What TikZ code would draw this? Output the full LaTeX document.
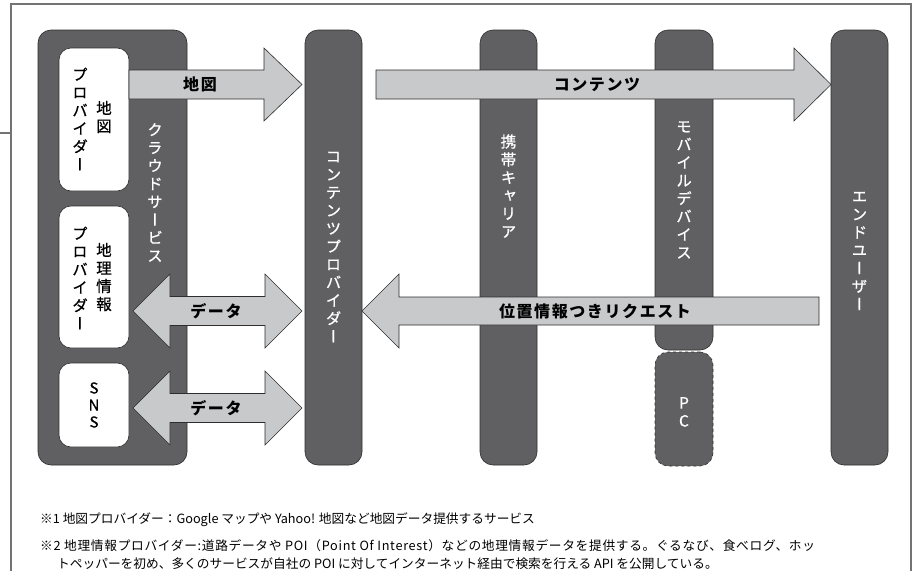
\documentclass[tikz,border=0pt]{standalone}
\usepackage{fontspec}
\setmainfont{Noto Sans CJK JP}
\newfontfamily\jp{Noto Sans CJK JP}
\newfontfamily\jpm[FakeBold=0.8]{Noto Sans CJK JP}
\newfontfamily\jpw[LetterSpace=5.5]{Noto Sans CJK JP}
\newfontfamily\vjp[RawFeature=+vert, FakeBold=0.8]{Noto Sans CJK JP}
\newfontfamily\lbl[LetterSpace=10]{Noto Sans CJK JP}
\definecolor{colfill}{RGB}{96,96,98}
\definecolor{colline}{RGB}{45,45,45}
\definecolor{arrfill}{RGB}{200,201,202}
\definecolor{framec}{RGB}{115,115,115}
\tikzset{
  col/.style={fill=colfill, draw=colline, line width=0.6pt, rounded corners=13pt, inner sep=0pt},
  wbox/.style={fill=white, draw=colline, line width=0.6pt, rounded corners=12pt, inner sep=0pt},
  barrow/.style={fill=arrfill, draw=colline, line width=0.6pt, line join=miter},
  vtxt/.style={text=white, font=\vjp\fontsize{15.5}{18}\selectfont, align=center, inner sep=0pt},
  vtxtb/.style={text=black, font=\vjp\fontsize{15.5}{18}\selectfont, align=center, inner sep=0pt},
  albl/.style={font=\lbl\bfseries\fontsize{16}{18}\selectfont, inner sep=0pt},
  note/.style={font=\jp\fontsize{12.7}{14}\selectfont, anchor=west, inner sep=0pt},
  framel/.style={draw=framec, line width=1.2pt}
}
\begin{document}
\begin{tikzpicture}[x=1pt,y=-1pt]
\useasboundingbox (0,0) rectangle (917,570);
% frame
\draw[framel] (11,572) -- (11,4) -- (911,4) -- (911,572);
\draw[framel] (0,133) -- (11,133);

% cloud services
\node[col, minimum width=149pt, minimum height=435pt] (cloud) at (112.5,247.5) {};
\node[wbox, minimum width=70pt, minimum height=143pt] (mapp) at (94,119.5) {};
\node[wbox, minimum width=70pt, minimum height=142pt] (geop) at (94,277) {};
\node[wbox, minimum width=70pt, minimum height=84pt] (sns) at (94,405) {};

% columns
\node[col, minimum width=57pt, minimum height=435pt] (cp) at (333.5,247.5) {};
\node[col, minimum width=57pt, minimum height=435pt] (car) at (508.5,247.5) {};
\node[col, minimum width=58pt, minimum height=320pt] (mob) at (684,190) {};
\node[col, dashed, minimum width=58pt, minimum height=114pt] (pc) at (684,409) {};
\node[col, minimum width=57pt, minimum height=435pt] (eu) at (859.5,247.5) {};

% arrows
\draw[barrow] (129,70) -- (264,70) -- (264,48) -- (302,84.5) -- (264,121) -- (264,99) -- (129,99) -- cycle;
\draw[barrow] (376,70) -- (794,70) -- (794,48) -- (831,84.5) -- (794,121) -- (794,99) -- (376,99) -- cycle;
\draw[barrow] (819,297) -- (399,297) -- (399,274) -- (362,311) -- (399,348) -- (399,325) -- (819,325) -- cycle;
\draw[barrow] (133,311) -- (170,274) -- (170,296.5) -- (265,296.5) -- (265,274) -- (302,311) -- (265,348) -- (265,325.5) -- (170,325.5) -- (170,348) -- cycle;
\draw[barrow] (133,408) -- (170,371) -- (170,393.5) -- (265,393.5) -- (265,371) -- (302,408) -- (265,445) -- (265,422.5) -- (170,422.5) -- (170,445) -- cycle;

% arrow labels
\node[albl] (lmap) at (200,84.5) {地図};
\node[albl] (lcon) at (597,84.5) {コンテンツ};
\node[albl] (ld1) at (216,311) {データ};
\node[albl] (ld2) at (216,408) {データ};
\node[albl] (lreq) at (595,311) {位置情報つきリクエスト};

% vertical texts
\node[vtxt] (tcloud) at (155,192.5) {ク\\ラ\\ウ\\ド\\サ\\ー\\ビ\\ス};
\node[vtxtb] (tmap1) at (80,119) {プ\\ロ\\バ\\イ\\ダ\\ー};
\node[vtxtb] (tmap2) at (104,117) {地\\図};
\node[vtxtb] (tgeo1) at (80,278) {プ\\ロ\\バ\\イ\\ダ\\ー};
\node[vtxtb] (tgeo2) at (104,277) {地\\理\\情\\報};
\node[vtxtb, font=\jpm\fontsize{15}{17}\selectfont] (tsns) at (94,405) {S\\N\\S};
\node[vtxt] (tcp) at (333.5,247) {コ\\ン\\テ\\ン\\ツ\\プ\\ロ\\バ\\イ\\ダ\\ー};
\node[vtxt] (tcar) at (508.5,186) {携\\帯\\キ\\ャ\\リ\\ア};
\node[vtxt] (tmob) at (684,190) {モ\\バ\\イ\\ル\\デ\\バ\\イ\\ス};
\node[vtxt] (teu) at (859.5,251) {エ\\ン\\ド\\ユ\\ー\\ザ\\ー};
\node[vtxt, font=\jpm\fontsize{15.5}{18}\selectfont] (tpc) at (684,412) {P\\C};

% notes
\node[note] (n1) at (40,520) {※1 地図プロバイダー：Google マップや Yahoo! 地図など地図データ提供するサービス};
\node[note, font=\jpw\fontsize{12.7}{14}\selectfont] (n2) at (40,546) {※2 地理情報プロバイダー:道路データや POI（Point Of Interest）などの地理情報データを提供する。ぐるなび、食べログ、ホッ};
\node[note] (n3) at (57,564) {トペッパーを初め、多くのサービスが自社の POI に対してインターネット経由で検索を行える API を公開している。};
\end{tikzpicture}
\end{document}
